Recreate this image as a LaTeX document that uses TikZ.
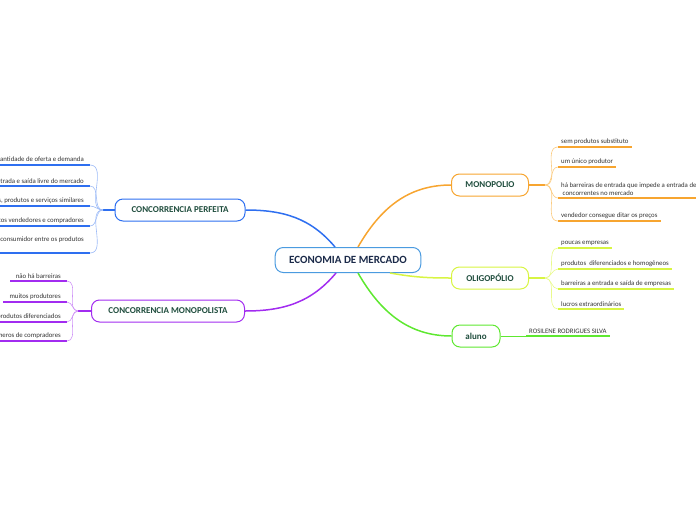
\documentclass[tikz,border=0pt]{standalone}
\usepackage{fontspec}
\setmainfont{Carlito}
\usetikzlibrary{calc}
\definecolor{hubcolor}{HTML}{4B9BE0}
\definecolor{hubtext}{HTML}{1B2A49}
\definecolor{topictext}{HTML}{1F4D3D}
\definecolor{leaftext}{HTML}{333333}
\definecolor{perfblue}{HTML}{2E6FF0}
\definecolor{perflight}{HTML}{9DBBF7}
\definecolor{mpolpurple}{HTML}{A22CF0}
\definecolor{mpollight}{HTML}{CF94F7}
\definecolor{monoorange}{HTML}{F7A530}
\definecolor{monolight}{HTML}{FBCB80}
\definecolor{oligyellow}{HTML}{D8F542}
\definecolor{oliglight}{HTML}{E9FA8C}
\definecolor{alungreen}{HTML}{5EE830}

\begin{document}
\begin{tikzpicture}[
    x=1pt, y=1pt,
    hub/.style={draw=hubcolor, line width=1pt, rounded corners=8pt, fill=white, minimum height=25pt, inner xsep=14pt, font=\fontsize{11}{13}\selectfont\bfseries, text=hubtext},
    topic/.style={draw=#1, line width=1pt, rounded corners=8pt, fill=white, minimum height=22pt, inner xsep=13pt, font=\fontsize{9}{11}\selectfont\bfseries, text=topictext},
    leaf/.style={inner xsep=3pt, inner ysep=2.5pt, font=\fontsize{6.8}{8.2}\selectfont, text=leaftext},
    leafl/.style={leaf, inner xsep=6pt, anchor=south east},
    leafr/.style={leaf, anchor=south west},
    limb/.style={draw=#1, line width=1.5pt},
    twig/.style={draw=#1, line width=0.6pt},
    uline/.style={draw=#1, line width=1.6pt}
]
    \useasboundingbox (0,0) rectangle (696,-520);
    \clip (0,0) rectangle (696,-520);

    % =========================================================================
    % CENTRE AND MAIN TOPICS
    % =========================================================================
    \node (hub) [hub] at (348,-260) {ECONOMIA DE MERCADO};

    \node (perf) [topic=perfblue, minimum width=130pt] at (180,-210) {CONCORRENCIA PERFEITA};
    \node (mpol) [topic=mpolpurple, minimum width=153pt] at (168,-311) {CONCORRENCIA MONOPOLISTA};
    \node (mono) [topic=monoorange, minimum width=77pt] at (490,-185) {MONOPOLIO};
    \node (olig) [topic=oligyellow, minimum width=77pt] at (490,-278) {OLIGOPÓLIO};
    \node (alun) [topic=alungreen, minimum width=48pt] at (476,-336) {aluno};

    % Main branches
    \draw [limb=perfblue] (perf.east) to[out=0, in=130] ($(hub.north)+(-13,0)$);
    \draw [limb=mpolpurple] (mpol.east) to[out=0, in=230] ($(hub.south)+(-12,0)$);
    \draw [limb=monoorange] ($(hub.north)+(10,0)$) to[out=60, in=180] (mono.west);
    \draw [limb=oligyellow] ($(hub.south)+(42,0)$) to[out=-10, in=180] (olig.west);
    \draw [limb=alungreen] ($(hub.south)+(10,0)$) to[out=-60, in=180] (alun.west);

    % =========================================================================
    % CONCORRENCIA PERFEITA
    % =========================================================================
    \coordinate (perf_j) at (103,-210);
    \draw [limb=perfblue] (perf.west) -- (perf_j);

    \node (perf1) [leafl] at (90,-165) {grande quantidade de oferta e demanda};
    \node (perf2) [leafl] at (90,-186) {entrada e saída livre do mercado};
    \node (perf3) [leafl] at (90,-206) {bens, produtos e serviços similares};
    \node (perf4) [leafl] at (90,-226) {muitos vendedores e compradores};
    \node (perf5) [leafl, text depth=9pt] at (90,-253) {não há preferência para o\ \ consumidor entre os produtos};

    \draw [uline=perfblue] (perf1.south east) -- (perf1.south west);
    \draw [uline=perfblue] (perf2.south east) -- (perf2.south west);
    \draw [uline=perfblue] (perf3.south east) -- (perf3.south west);
    \draw [uline=perfblue] (perf4.south east) -- (perf4.south west);
    \draw [uline=perfblue] (perf5.south east) -- (perf5.south west);

    \draw [twig=perflight] (perf_j) to[out=180, in=0] (perf1.south east);
    \draw [twig=perflight] (perf_j) to[out=180, in=0] (perf2.south east);
    \draw [twig=perflight] (perf_j) to[out=180, in=0] (perf3.south east);
    \draw [twig=perflight] (perf_j) to[out=180, in=0] (perf4.south east);
    \draw [twig=perflight] (perf_j) to[out=180, in=0] (perf5.south east);

    % =========================================================================
    % CONCORRENCIA MONOPOLISTA
    % =========================================================================
    \coordinate (mpol_j) at (78,-311);
    \draw [limb=mpolpurple] (mpol.west) -- (mpol_j);

    \node (mpol1) [leafl] at (67,-281) {não há barreiras};
    \node (mpol2) [leafl] at (67,-302) {muitos produtores};
    \node (mpol3) [leafl] at (67,-322) {produtos diferenciados};
    \node (mpol4) [leafl] at (67,-341) {grandes números de compradores};

    \draw [uline=mpolpurple] (mpol1.south east) -- (mpol1.south west);
    \draw [uline=mpolpurple] (mpol2.south east) -- (mpol2.south west);
    \draw [uline=mpolpurple] (mpol3.south east) -- (mpol3.south west);
    \draw [uline=mpolpurple] (mpol4.south east) -- (mpol4.south west);

    \draw [twig=mpollight] (mpol_j) to[out=180, in=0] (mpol1.south east);
    \draw [twig=mpollight] (mpol_j) to[out=180, in=0] (mpol2.south east);
    \draw [twig=mpollight] (mpol_j) to[out=180, in=0] (mpol3.south east);
    \draw [twig=mpollight] (mpol_j) to[out=180, in=0] (mpol4.south east);

    % =========================================================================
    % MONOPOLIO
    % =========================================================================
    \coordinate (mono_j) at (545,-185);
    \draw [limb=monoorange] (mono.east) -- (mono_j);

    \node (mono1) [leafr] at (558,-147) {sem produtos substituto};
    \node (mono2) [leafr] at (558,-167) {um único produtor};
    \node (mono3) [leafr, align=left] at (558,-198) {há barreiras de entrada que impede a entrada de\\ \ concorrentes no mercado};
    \node (mono4) [leafr] at (558,-221) {vendedor consegue ditar os preços};

    \draw [uline=monoorange] (mono1.south west) -- (mono1.south east);
    \draw [uline=monoorange] (mono2.south west) -- (mono2.south east);
    \draw [uline=monoorange] (mono3.south west) -- (mono3.south east);
    \draw [uline=monoorange] (mono4.south west) -- (mono4.south east);

    \draw [twig=monolight] (mono_j) to[out=0, in=180] (mono1.south west);
    \draw [twig=monolight] (mono_j) to[out=0, in=180] (mono2.south west);
    \draw [twig=monolight] (mono_j) to[out=0, in=180] (mono3.south west);
    \draw [twig=monolight] (mono_j) to[out=0, in=180] (mono4.south west);

    % =========================================================================
    % OLIGOPOLIO
    % =========================================================================
    \coordinate (olig_j) at (545,-278);
    \draw [limb=oligyellow] (olig.east) -- (olig_j);

    \node (olig1) [leafr] at (558,-248) {poucas empresas};
    \node (olig2) [leafr] at (558,-269) {produtos\ \ diferenciados e homogêneos};
    \node (olig3) [leafr] at (558,-289) {barreiras a entrada e saída de empresas};
    \node (olig4) [leafr] at (558,-309) {lucros extraordinários};

    \draw [uline=oligyellow] (olig1.south west) -- (olig1.south east);
    \draw [uline=oligyellow] (olig2.south west) -- (olig2.south east);
    \draw [uline=oligyellow] (olig3.south west) -- (olig3.south east);
    \draw [uline=oligyellow] (olig4.south west) -- (olig4.south east);

    \draw [twig=oliglight] (olig_j) to[out=0, in=180] (olig1.south west);
    \draw [twig=oliglight] (olig_j) to[out=0, in=180] (olig2.south west);
    \draw [twig=oliglight] (olig_j) to[out=0, in=180] (olig3.south west);
    \draw [twig=oliglight] (olig_j) to[out=0, in=180] (olig4.south west);

    % =========================================================================
    % ALUNO
    % =========================================================================
    \node (alun1) [leafr] at (526,-336) {ROSILENE RODRIGUES SILVA};
    \draw [uline=alungreen] (alun1.south west) -- (alun1.south east);
    \draw [twig=alungreen] (alun.east) -- (alun1.south west);

\end{tikzpicture}
\end{document}
